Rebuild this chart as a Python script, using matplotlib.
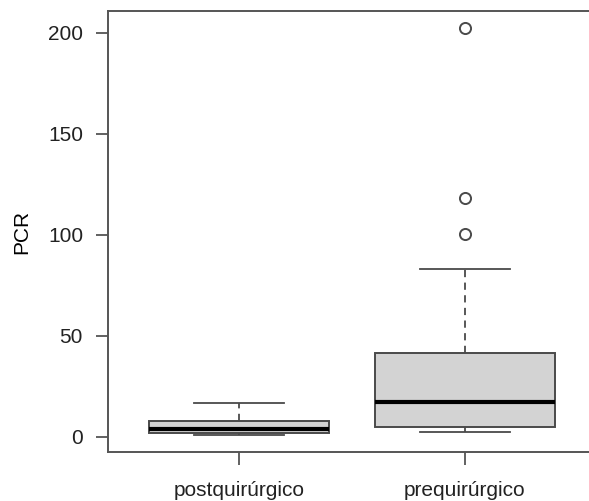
import matplotlib.pyplot as plt

# Values
groups = ["postquirúrgico", "prequirúrgico"]
q1 = [2.0, 5.0]
medians = [4.0, 17.3]
q3 = [7.9, 41.7]
whis_lo = [1.0, 2.3]
whis_hi = [16.8, 83.0]
outliers = [[], [100.5, 118.5, 202.5]]
yticks = [0, 50, 100, 150, 200]

plt.rcParams['font.family'] = ['Liberation Sans', 'DejaVu Sans']

def main():
    fig = plt.figure(figsize=(5.89, 5.01), dpi=100)
    # right part of the frame is cropped in the original, so the axes runs past the figure
    ax = fig.add_axes([108 / 589, 49 / 501, 488 / 589, 440.5 / 501])

    stats = []
    for i, name in enumerate(groups):
        stats.append(dict(label=name, q1=q1[i], med=medians[i], q3=q3[i],
                          whislo=whis_lo[i], whishi=whis_hi[i], fliers=outliers[i]))

    edge = "#4a4a4a"
    ax.bxp(stats, positions=[1, 2], widths=0.8, patch_artist=True,
           boxprops=dict(facecolor="#d3d3d3", edgecolor=edge, linewidth=1.4),
           medianprops=dict(color="black", linewidth=3),
           whiskerprops=dict(color=edge, linewidth=1.3, linestyle=(0, (4, 3))),
           capprops=dict(color=edge, linewidth=1.3),
           capwidths=0.4,
           flierprops=dict(marker="o", markerfacecolor="none", markeredgecolor=edge,
                           markersize=8, markeredgewidth=1.4))

    ax.set_xlim(0.42, 2.58)
    ax.set_ylim(-7.43, 210.6)
    ax.set_yticks(yticks)
    ax.set_xticks([1, 2])
    ax.set_xticklabels(groups)
    ax.set_ylabel("PCR", fontsize=15, labelpad=12)

    for s in ax.spines.values():
        s.set_color("#555555")
        s.set_linewidth(1.4)
    ax.tick_params(axis="both", direction="out", length=9, width=1.3,
                   color="#555555", labelsize=15, labelcolor="#222222")
    ax.tick_params(axis="y", pad=9)
    ax.tick_params(axis="x", pad=12)

    fig.savefig("out.png", dpi=100)

if __name__ == "__main__":
    main()
